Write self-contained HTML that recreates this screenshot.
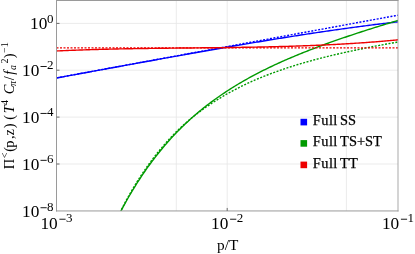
<!DOCTYPE html>
<html><head><meta charset="utf-8"><title>plot</title>
<style>
html,body{margin:0;padding:0;background:#fff;}
body{width:415px;height:254px;overflow:hidden;}
svg{display:block;will-change:transform;font-family:"Liberation Serif",serif;}
text{fill:#000;}
.tk{font-size:17px;}
.sp{font-size:12.3px;}
.ax{font-size:15.3px;}
.yl{font-size:14.3px;}
.sp2{font-size:10.5px;}
.sb{font-size:10.5px;}
.it{font-style:italic;}
.lg{font-size:14.4px;stroke:#000;stroke-width:0.25px;}
</style></head><body>
<svg width="415" height="254" viewBox="0 0 415 254">
<rect width="415" height="254" fill="#fff"/>
<line x1="56.5" x2="398.0" y1="23.4" y2="23.4" stroke="#e6e6e6" stroke-width="0.8"/>
<line x1="56.5" x2="398.0" y1="70.2" y2="70.2" stroke="#e6e6e6" stroke-width="0.8"/>
<line x1="56.5" x2="398.0" y1="117.1" y2="117.1" stroke="#e6e6e6" stroke-width="0.8"/>
<line x1="56.5" x2="398.0" y1="164.0" y2="164.0" stroke="#e6e6e6" stroke-width="0.8"/>
<line x1="176.3" x2="176.3" y1="0.5" y2="210.95" stroke="#e6e6e6" stroke-width="0.8"/>
<line x1="227.2" x2="227.2" y1="0.5" y2="210.95" stroke="#e6e6e6" stroke-width="0.8"/>
<line x1="346.4" x2="346.4" y1="0.5" y2="210.95" stroke="#e6e6e6" stroke-width="0.8"/>
<clipPath id="c"><rect x="56.5" y="0.5" width="341.5" height="210.45"/></clipPath>
<g clip-path="url(#c)" fill="none" stroke-width="1.4" stroke-linejoin="round">
<polyline points="56.50,78.01 57.93,77.75 59.36,77.48 60.79,77.22 62.22,76.96 63.64,76.69 65.07,76.43 66.50,76.16 67.93,75.90 69.36,75.64 70.79,75.37 72.22,75.11 73.65,74.85 75.08,74.58 76.50,74.32 77.93,74.06 79.36,73.79 80.79,73.53 82.22,73.27 83.65,73.00 85.08,72.74 86.51,72.48 87.94,72.21 89.36,71.95 90.79,71.69 92.22,71.43 93.65,71.16 95.08,70.90 96.51,70.64 97.94,70.38 99.37,70.11 100.79,69.85 102.22,69.59 103.65,69.33 105.08,69.06 106.51,68.80 107.94,68.54 109.37,68.28 110.80,68.02 112.23,67.76 113.65,67.49 115.08,67.23 116.51,66.97 117.94,66.71 119.37,66.45 120.80,66.19 122.23,65.93 123.66,65.66 125.09,65.40 126.51,65.14 127.94,64.88 129.37,64.62 130.80,64.36 132.23,64.10 133.66,63.84 135.09,63.58 136.52,63.32 137.95,63.06 139.37,62.80 140.80,62.54 142.23,62.28 143.66,62.02 145.09,61.76 146.52,61.50 147.95,61.24 149.38,60.99 150.81,60.73 152.23,60.47 153.66,60.21 155.09,59.95 156.52,59.69 157.95,59.43 159.38,59.18 160.81,58.92 162.24,58.66 163.67,58.40 165.09,58.15 166.52,57.89 167.95,57.63 169.38,57.38 170.81,57.12 172.24,56.86 173.67,56.61 175.10,56.35 176.53,56.09 177.95,55.84 179.38,55.58 180.81,55.33 182.24,55.07 183.67,54.82 185.10,54.56 186.53,54.31 187.96,54.05 189.38,53.80 190.81,53.55 192.24,53.29 193.67,53.04 195.10,52.79 196.53,52.53 197.96,52.28 199.39,52.03 200.82,51.77 202.24,51.52 203.67,51.27 205.10,51.02 206.53,50.77 207.96,50.52 209.39,50.27 210.82,50.02 212.25,49.77 213.68,49.52 215.10,49.27 216.53,49.02 217.96,48.77 219.39,48.52 220.82,48.27 222.25,48.02 223.68,47.78 225.11,47.53 226.54,47.28 227.96,47.03 229.39,46.79 230.82,46.54 232.25,46.30 233.68,46.05 235.11,45.81 236.54,45.56 237.97,45.32 239.40,45.07 240.82,44.83 242.25,44.59 243.68,44.34 245.11,44.10 246.54,43.86 247.97,43.62 249.40,43.38 250.83,43.14 252.26,42.90 253.68,42.66 255.11,42.42 256.54,42.18 257.97,41.94 259.40,41.70 260.83,41.46 262.26,41.23 263.69,40.99 265.12,40.75 266.54,40.52 267.97,40.28 269.40,40.05 270.83,39.81 272.26,39.58 273.69,39.35 275.12,39.12 276.55,38.88 277.97,38.65 279.40,38.42 280.83,38.19 282.26,37.96 283.69,37.73 285.12,37.50 286.55,37.28 287.98,37.05 289.41,36.82 290.83,36.59 292.26,36.37 293.69,36.14 295.12,35.92 296.55,35.70 297.98,35.47 299.41,35.25 300.84,35.03 302.27,34.81 303.69,34.59 305.12,34.37 306.55,34.15 307.98,33.93 309.41,33.71 310.84,33.50 312.27,33.28 313.70,33.06 315.13,32.85 316.55,32.64 317.98,32.42 319.41,32.21 320.84,32.00 322.27,31.79 323.70,31.58 325.13,31.37 326.56,31.16 327.99,30.95 329.41,30.74 330.84,30.54 332.27,30.33 333.70,30.13 335.13,29.92 336.56,29.72 337.99,29.52 339.42,29.32 340.85,29.12 342.27,28.92 343.70,28.72 345.13,28.52 346.56,28.32 347.99,28.13 349.42,27.93 350.85,27.74 352.28,27.54 353.71,27.35 355.13,27.16 356.56,26.97 357.99,26.78 359.42,26.59 360.85,26.40 362.28,26.21 363.71,26.02 365.14,25.84 366.56,25.65 367.99,25.47 369.42,25.29 370.85,25.11 372.28,24.92 373.71,24.74 375.14,24.57 376.57,24.39 378.00,24.21 379.42,24.03 380.85,23.86 382.28,23.68 383.71,23.51 385.14,23.34 386.57,23.17 388.00,23.00 389.43,22.83 390.86,22.66 392.28,22.49 393.71,22.32 395.14,22.16 396.57,21.99 398.00,21.83" stroke="#0000ff"/>
<polyline points="56.50,77.90 57.93,77.64 59.36,77.38 60.79,77.11 62.22,76.85 63.64,76.59 65.07,76.33 66.50,76.06 67.93,75.80 69.36,75.54 70.79,75.28 72.22,75.01 73.65,74.75 75.08,74.49 76.50,74.23 77.93,73.96 79.36,73.70 80.79,73.44 82.22,73.18 83.65,72.92 85.08,72.65 86.51,72.39 87.94,72.13 89.36,71.87 90.79,71.60 92.22,71.34 93.65,71.08 95.08,70.82 96.51,70.55 97.94,70.29 99.37,70.03 100.79,69.77 102.22,69.51 103.65,69.24 105.08,68.98 106.51,68.72 107.94,68.46 109.37,68.19 110.80,67.93 112.23,67.67 113.65,67.41 115.08,67.14 116.51,66.88 117.94,66.62 119.37,66.36 120.80,66.09 122.23,65.83 123.66,65.57 125.09,65.31 126.51,65.05 127.94,64.78 129.37,64.52 130.80,64.26 132.23,64.00 133.66,63.73 135.09,63.47 136.52,63.21 137.95,62.95 139.37,62.68 140.80,62.42 142.23,62.16 143.66,61.90 145.09,61.63 146.52,61.37 147.95,61.11 149.38,60.85 150.81,60.59 152.23,60.32 153.66,60.06 155.09,59.80 156.52,59.54 157.95,59.27 159.38,59.01 160.81,58.75 162.24,58.49 163.67,58.22 165.09,57.96 166.52,57.70 167.95,57.44 169.38,57.17 170.81,56.91 172.24,56.65 173.67,56.39 175.10,56.13 176.53,55.86 177.95,55.60 179.38,55.34 180.81,55.08 182.24,54.81 183.67,54.55 185.10,54.29 186.53,54.03 187.96,53.76 189.38,53.50 190.81,53.24 192.24,52.98 193.67,52.72 195.10,52.45 196.53,52.19 197.96,51.93 199.39,51.67 200.82,51.40 202.24,51.14 203.67,50.88 205.10,50.62 206.53,50.35 207.96,50.09 209.39,49.83 210.82,49.57 212.25,49.30 213.68,49.04 215.10,48.78 216.53,48.52 217.96,48.26 219.39,47.99 220.82,47.73 222.25,47.47 223.68,47.21 225.11,46.94 226.54,46.68 227.96,46.42 229.39,46.16 230.82,45.89 232.25,45.63 233.68,45.37 235.11,45.11 236.54,44.84 237.97,44.58 239.40,44.32 240.82,44.06 242.25,43.80 243.68,43.53 245.11,43.27 246.54,43.01 247.97,42.75 249.40,42.48 250.83,42.22 252.26,41.96 253.68,41.70 255.11,41.43 256.54,41.17 257.97,40.91 259.40,40.65 260.83,40.38 262.26,40.12 263.69,39.86 265.12,39.60 266.54,39.34 267.97,39.07 269.40,38.81 270.83,38.55 272.26,38.29 273.69,38.02 275.12,37.76 276.55,37.50 277.97,37.24 279.40,36.97 280.83,36.71 282.26,36.45 283.69,36.19 285.12,35.93 286.55,35.66 287.98,35.40 289.41,35.14 290.83,34.88 292.26,34.61 293.69,34.35 295.12,34.09 296.55,33.83 297.98,33.56 299.41,33.30 300.84,33.04 302.27,32.78 303.69,32.51 305.12,32.25 306.55,31.99 307.98,31.73 309.41,31.47 310.84,31.20 312.27,30.94 313.70,30.68 315.13,30.42 316.55,30.15 317.98,29.89 319.41,29.63 320.84,29.37 322.27,29.10 323.70,28.84 325.13,28.58 326.56,28.32 327.99,28.05 329.41,27.79 330.84,27.53 332.27,27.27 333.70,27.01 335.13,26.74 336.56,26.48 337.99,26.22 339.42,25.96 340.85,25.69 342.27,25.43 343.70,25.17 345.13,24.91 346.56,24.64 347.99,24.38 349.42,24.12 350.85,23.86 352.28,23.59 353.71,23.33 355.13,23.07 356.56,22.81 357.99,22.55 359.42,22.28 360.85,22.02 362.28,21.76 363.71,21.50 365.14,21.23 366.56,20.97 367.99,20.71 369.42,20.45 370.85,20.18 372.28,19.92 373.71,19.66 375.14,19.40 376.57,19.14 378.00,18.87 379.42,18.61 380.85,18.35 382.28,18.09 383.71,17.82 385.14,17.56 386.57,17.30 388.00,17.04 389.43,16.77 390.86,16.51 392.28,16.25 393.71,15.99 395.14,15.72 396.57,15.46 398.00,15.20" stroke="#0000ff" stroke-dasharray="2 1.5"/>
<polyline points="112.23,228.40 113.65,225.42 115.08,222.50 116.51,219.62 117.94,216.79 119.37,214.01 120.80,211.27 122.23,208.58 123.66,205.93 125.09,203.33 126.51,200.77 127.94,198.25 129.37,195.77 130.80,193.34 132.23,190.94 133.66,188.58 135.09,186.26 136.52,183.97 137.95,181.72 139.37,179.51 140.80,177.33 142.23,175.19 143.66,173.08 145.09,171.01 146.52,168.96 147.95,166.95 149.38,164.97 150.81,163.02 152.23,161.10 153.66,159.21 155.09,157.35 156.52,155.52 157.95,153.71 159.38,151.94 160.81,150.19 162.24,148.46 163.67,146.76 165.09,145.09 166.52,143.44 167.95,141.82 169.38,140.22 170.81,138.64 172.24,137.09 173.67,135.56 175.10,134.05 176.53,132.56 177.95,131.09 179.38,129.65 180.81,128.23 182.24,126.82 183.67,125.44 185.10,124.07 186.53,122.72 187.96,121.40 189.38,120.09 190.81,118.79 192.24,117.52 193.67,116.26 195.10,115.02 196.53,113.80 197.96,112.59 199.39,111.40 200.82,110.22 202.24,109.06 203.67,107.92 205.10,106.79 206.53,105.67 207.96,104.57 209.39,103.48 210.82,102.41 212.25,101.35 213.68,100.30 215.10,99.26 216.53,98.24 217.96,97.23 219.39,96.23 220.82,95.25 222.25,94.27 223.68,93.31 225.11,92.36 226.54,91.42 227.96,90.49 229.39,89.57 230.82,88.66 232.25,87.76 233.68,86.88 235.11,86.00 236.54,85.13 237.97,84.27 239.40,83.42 240.82,82.58 242.25,81.75 243.68,80.93 245.11,80.11 246.54,79.31 247.97,78.51 249.40,77.72 250.83,76.94 252.26,76.16 253.68,75.40 255.11,74.64 256.54,73.89 257.97,73.14 259.40,72.41 260.83,71.68 262.26,70.95 263.69,70.24 265.12,69.53 266.54,68.82 267.97,68.13 269.40,67.43 270.83,66.75 272.26,66.07 273.69,65.40 275.12,64.73 276.55,64.07 277.97,63.41 279.40,62.76 280.83,62.12 282.26,61.48 283.69,60.84 285.12,60.21 286.55,59.59 287.98,58.97 289.41,58.35 290.83,57.74 292.26,57.13 293.69,56.53 295.12,55.93 296.55,55.34 297.98,54.75 299.41,54.17 300.84,53.59 302.27,53.01 303.69,52.44 305.12,51.87 306.55,51.30 307.98,50.74 309.41,50.18 310.84,49.63 312.27,49.08 313.70,48.53 315.13,47.98 316.55,47.44 317.98,46.91 319.41,46.37 320.84,45.84 322.27,45.31 323.70,44.79 325.13,44.26 326.56,43.74 327.99,43.23 329.41,42.71 330.84,42.20 332.27,41.69 333.70,41.19 335.13,40.68 336.56,40.18 337.99,39.68 339.42,39.19 340.85,38.69 342.27,38.20 343.70,37.71 345.13,37.23 346.56,36.74 347.99,36.26 349.42,35.78 350.85,35.30 352.28,34.82 353.71,34.35 355.13,33.88 356.56,33.41 357.99,32.94 359.42,32.47 360.85,32.00 362.28,31.54 363.71,31.08 365.14,30.62 366.56,30.16 367.99,29.70 369.42,29.25 370.85,28.80 372.28,28.34 373.71,27.89 375.14,27.45 376.57,27.00 378.00,26.55 379.42,26.11 380.85,25.66 382.28,25.22 383.71,24.78 385.14,24.34 386.57,23.91 388.00,23.47 389.43,23.03 390.86,22.60 392.28,22.17 393.71,21.73 395.14,21.30 396.57,20.87 398.00,20.45" stroke="#009a00"/>
<polyline points="112.23,228.51 113.65,225.41 115.08,222.37 116.51,219.38 117.94,216.44 119.37,213.56 120.80,210.73 122.23,207.95 123.66,205.22 125.09,202.53 126.51,199.90 127.94,197.31 129.37,194.77 130.80,192.27 132.23,189.81 133.66,187.40 135.09,185.03 136.52,182.71 137.95,180.42 139.37,178.17 140.80,175.97 142.23,173.80 143.66,171.67 145.09,169.58 146.52,167.52 147.95,165.50 149.38,163.51 150.81,161.56 152.23,159.64 153.66,157.75 155.09,155.90 156.52,154.08 157.95,152.29 159.38,150.53 160.81,148.80 162.24,147.09 163.67,145.42 165.09,143.78 166.52,142.16 167.95,140.57 169.38,139.01 170.81,137.48 172.24,135.97 173.67,134.48 175.10,133.02 176.53,131.59 177.95,130.20 179.38,128.84 180.81,127.50 182.24,126.18 183.67,124.88 185.10,123.60 186.53,122.35 187.96,121.11 189.38,119.90 190.81,118.70 192.24,117.53 193.67,116.37 195.10,115.24 196.53,114.12 197.96,113.02 199.39,111.93 200.82,110.87 202.24,109.82 203.67,108.79 205.10,107.78 206.53,106.78 207.96,105.80 209.39,104.83 210.82,103.88 212.25,102.94 213.68,102.02 215.10,101.11 216.53,100.22 217.96,99.34 219.39,98.46 220.82,97.59 222.25,96.72 223.68,95.87 225.11,95.04 226.54,94.21 227.96,93.40 229.39,92.60 230.82,91.81 232.25,91.03 233.68,90.26 235.11,89.51 236.54,88.76 237.97,88.03 239.40,87.31 240.82,86.59 242.25,85.89 243.68,85.19 245.11,84.51 246.54,83.83 247.97,83.17 249.40,82.51 250.83,81.86 252.26,81.22 253.68,80.59 255.11,79.97 256.54,79.36 257.97,78.75 259.40,78.15 260.83,77.56 262.26,76.98 263.69,76.41 265.12,75.84 266.54,75.28 267.97,74.73 269.40,74.18 270.83,73.64 272.26,73.11 273.69,72.58 275.12,72.06 276.55,71.55 277.97,71.04 279.40,70.54 280.83,70.04 282.26,69.55 283.69,69.07 285.12,68.59 286.55,68.12 287.98,67.65 289.41,67.19 290.83,66.73 292.26,66.28 293.69,65.83 295.12,65.39 296.55,64.95 297.98,64.52 299.41,64.09 300.84,63.67 302.27,63.25 303.69,62.83 305.12,62.42 306.55,62.02 307.98,61.61 309.41,61.22 310.84,60.82 312.27,60.43 313.70,60.05 315.13,59.66 316.55,59.28 317.98,58.91 319.41,58.54 320.84,58.17 322.27,57.80 323.70,57.44 325.13,57.08 326.56,56.73 327.99,56.38 329.41,56.03 330.84,55.68 332.27,55.34 333.70,55.00 335.13,54.66 336.56,54.33 337.99,54.00 339.42,53.67 340.85,53.34 342.27,53.02 343.70,52.69 345.13,52.38 346.56,52.06 347.99,51.75 349.42,51.43 350.85,51.13 352.28,50.82 353.71,50.51 355.13,50.21 356.56,49.91 357.99,49.61 359.42,49.32 360.85,49.02 362.28,48.73 363.71,48.44 365.14,48.15 366.56,47.87 367.99,47.58 369.42,47.30 370.85,47.02 372.28,46.74 373.71,46.46 375.14,46.18 376.57,45.91 378.00,45.64 379.42,45.37 380.85,45.10 382.28,44.83 383.71,44.56 385.14,44.30 386.57,44.03 388.00,43.77 389.43,43.51 390.86,43.25 392.28,42.99 393.71,42.73 395.14,42.48 396.57,42.22 398.00,41.97" stroke="#009a00" stroke-dasharray="2 1.5"/>
<polyline points="56.50,50.97 57.93,50.90 59.36,50.83 60.79,50.77 62.22,50.71 63.64,50.64 65.07,50.58 66.50,50.52 67.93,50.46 69.36,50.40 70.79,50.35 72.22,50.29 73.65,50.24 75.08,50.18 76.50,50.13 77.93,50.08 79.36,50.03 80.79,49.98 82.22,49.93 83.65,49.88 85.08,49.83 86.51,49.78 87.94,49.74 89.36,49.69 90.79,49.65 92.22,49.60 93.65,49.56 95.08,49.52 96.51,49.48 97.94,49.44 99.37,49.40 100.79,49.36 102.22,49.32 103.65,49.29 105.08,49.25 106.51,49.21 107.94,49.18 109.37,49.14 110.80,49.11 112.23,49.08 113.65,49.05 115.08,49.01 116.51,48.98 117.94,48.95 119.37,48.92 120.80,48.89 122.23,48.86 123.66,48.84 125.09,48.81 126.51,48.78 127.94,48.76 129.37,48.73 130.80,48.70 132.23,48.68 133.66,48.65 135.09,48.63 136.52,48.61 137.95,48.58 139.37,48.56 140.80,48.54 142.23,48.52 143.66,48.50 145.09,48.48 146.52,48.46 147.95,48.43 149.38,48.41 150.81,48.40 152.23,48.38 153.66,48.36 155.09,48.34 156.52,48.32 157.95,48.30 159.38,48.29 160.81,48.27 162.24,48.25 163.67,48.23 165.09,48.22 166.52,48.20 167.95,48.18 169.38,48.17 170.81,48.15 172.24,48.14 173.67,48.12 175.10,48.11 176.53,48.09 177.95,48.07 179.38,48.06 180.81,48.04 182.24,48.03 183.67,48.02 185.10,48.00 186.53,47.99 187.96,47.97 189.38,47.96 190.81,47.94 192.24,47.93 193.67,47.91 195.10,47.90 196.53,47.88 197.96,47.87 199.39,47.85 200.82,47.84 202.24,47.82 203.67,47.81 205.10,47.79 206.53,47.78 207.96,47.76 209.39,47.75 210.82,47.73 212.25,47.72 213.68,47.70 215.10,47.68 216.53,47.67 217.96,47.65 219.39,47.63 220.82,47.62 222.25,47.60 223.68,47.58 225.11,47.56 226.54,47.55 227.96,47.53 229.39,47.51 230.82,47.49 232.25,47.47 233.68,47.45 235.11,47.43 236.54,47.41 237.97,47.39 239.40,47.37 240.82,47.35 242.25,47.32 243.68,47.30 245.11,47.28 246.54,47.26 247.97,47.23 249.40,47.21 250.83,47.18 252.26,47.16 253.68,47.13 255.11,47.11 256.54,47.08 257.97,47.05 259.40,47.02 260.83,46.99 262.26,46.97 263.69,46.94 265.12,46.91 266.54,46.88 267.97,46.84 269.40,46.81 270.83,46.78 272.26,46.75 273.69,46.71 275.12,46.68 276.55,46.64 277.97,46.60 279.40,46.57 280.83,46.53 282.26,46.49 283.69,46.45 285.12,46.41 286.55,46.37 287.98,46.33 289.41,46.29 290.83,46.25 292.26,46.20 293.69,46.16 295.12,46.11 296.55,46.06 297.98,46.02 299.41,45.97 300.84,45.92 302.27,45.87 303.69,45.82 305.12,45.77 306.55,45.71 307.98,45.66 309.41,45.60 310.84,45.55 312.27,45.49 313.70,45.43 315.13,45.38 316.55,45.32 317.98,45.25 319.41,45.19 320.84,45.13 322.27,45.07 323.70,45.00 325.13,44.93 326.56,44.87 327.99,44.80 329.41,44.73 330.84,44.66 332.27,44.59 333.70,44.51 335.13,44.44 336.56,44.36 337.99,44.29 339.42,44.21 340.85,44.13 342.27,44.05 343.70,43.97 345.13,43.88 346.56,43.80 347.99,43.72 349.42,43.63 350.85,43.54 352.28,43.45 353.71,43.36 355.13,43.27 356.56,43.17 357.99,43.08 359.42,42.98 360.85,42.89 362.28,42.79 363.71,42.69 365.14,42.58 366.56,42.48 367.99,42.38 369.42,42.27 370.85,42.16 372.28,42.05 373.71,41.94 375.14,41.83 376.57,41.72 378.00,41.60 379.42,41.48 380.85,41.37 382.28,41.25 383.71,41.12 385.14,41.00 386.57,40.88 388.00,40.75 389.43,40.62 390.86,40.49 392.28,40.36 393.71,40.23 395.14,40.09 396.57,39.96 398.00,39.82" stroke="#ee0000"/>
<polyline points="56.50,47.90 57.93,47.90 59.36,47.90 60.79,47.90 62.22,47.90 63.64,47.90 65.07,47.90 66.50,47.90 67.93,47.90 69.36,47.90 70.79,47.90 72.22,47.90 73.65,47.90 75.08,47.90 76.50,47.90 77.93,47.90 79.36,47.90 80.79,47.90 82.22,47.90 83.65,47.90 85.08,47.90 86.51,47.90 87.94,47.90 89.36,47.90 90.79,47.90 92.22,47.90 93.65,47.90 95.08,47.90 96.51,47.90 97.94,47.90 99.37,47.90 100.79,47.90 102.22,47.90 103.65,47.90 105.08,47.90 106.51,47.90 107.94,47.90 109.37,47.90 110.80,47.90 112.23,47.90 113.65,47.90 115.08,47.90 116.51,47.90 117.94,47.90 119.37,47.90 120.80,47.90 122.23,47.90 123.66,47.90 125.09,47.90 126.51,47.90 127.94,47.90 129.37,47.90 130.80,47.90 132.23,47.90 133.66,47.90 135.09,47.90 136.52,47.90 137.95,47.90 139.37,47.90 140.80,47.90 142.23,47.90 143.66,47.90 145.09,47.90 146.52,47.90 147.95,47.90 149.38,47.90 150.81,47.90 152.23,47.90 153.66,47.90 155.09,47.90 156.52,47.90 157.95,47.90 159.38,47.90 160.81,47.90 162.24,47.90 163.67,47.90 165.09,47.90 166.52,47.90 167.95,47.90 169.38,47.90 170.81,47.90 172.24,47.90 173.67,47.90 175.10,47.90 176.53,47.90 177.95,47.90 179.38,47.90 180.81,47.90 182.24,47.90 183.67,47.90 185.10,47.90 186.53,47.90 187.96,47.90 189.38,47.90 190.81,47.90 192.24,47.90 193.67,47.90 195.10,47.90 196.53,47.90 197.96,47.90 199.39,47.90 200.82,47.90 202.24,47.90 203.67,47.90 205.10,47.90 206.53,47.90 207.96,47.90 209.39,47.90 210.82,47.90 212.25,47.90 213.68,47.90 215.10,47.90 216.53,47.90 217.96,47.90 219.39,47.90 220.82,47.90 222.25,47.90 223.68,47.90 225.11,47.90 226.54,47.90 227.96,47.90 229.39,47.90 230.82,47.90 232.25,47.90 233.68,47.90 235.11,47.90 236.54,47.90 237.97,47.90 239.40,47.90 240.82,47.90 242.25,47.90 243.68,47.90 245.11,47.90 246.54,47.90 247.97,47.90 249.40,47.90 250.83,47.90 252.26,47.90 253.68,47.90 255.11,47.90 256.54,47.90 257.97,47.90 259.40,47.90 260.83,47.90 262.26,47.90 263.69,47.90 265.12,47.90 266.54,47.90 267.97,47.90 269.40,47.90 270.83,47.90 272.26,47.90 273.69,47.90 275.12,47.90 276.55,47.90 277.97,47.90 279.40,47.90 280.83,47.90 282.26,47.90 283.69,47.90 285.12,47.90 286.55,47.90 287.98,47.90 289.41,47.90 290.83,47.90 292.26,47.90 293.69,47.90 295.12,47.90 296.55,47.90 297.98,47.90 299.41,47.90 300.84,47.90 302.27,47.90 303.69,47.90 305.12,47.90 306.55,47.90 307.98,47.90 309.41,47.90 310.84,47.90 312.27,47.90 313.70,47.90 315.13,47.90 316.55,47.90 317.98,47.90 319.41,47.90 320.84,47.90 322.27,47.90 323.70,47.90 325.13,47.90 326.56,47.90 327.99,47.90 329.41,47.90 330.84,47.90 332.27,47.90 333.70,47.90 335.13,47.90 336.56,47.90 337.99,47.90 339.42,47.90 340.85,47.90 342.27,47.90 343.70,47.90 345.13,47.90 346.56,47.90 347.99,47.90 349.42,47.90 350.85,47.90 352.28,47.90 353.71,47.90 355.13,47.90 356.56,47.90 357.99,47.90 359.42,47.90 360.85,47.90 362.28,47.90 363.71,47.90 365.14,47.90 366.56,47.90 367.99,47.90 369.42,47.90 370.85,47.90 372.28,47.90 373.71,47.90 375.14,47.90 376.57,47.90 378.00,47.90 379.42,47.90 380.85,47.90 382.28,47.90 383.71,47.90 385.14,47.90 386.57,47.90 388.00,47.90 389.43,47.90 390.86,47.90 392.28,47.90 393.71,47.90 395.14,47.90 396.57,47.90 398.00,47.90" stroke="#ee0000" stroke-dasharray="2 1.5"/>
</g>
<g stroke="#9a9a9a" stroke-width="1" fill="none">
<line x1="56.5" x2="56.5" y1="0" y2="211.45"/>
<line x1="398.0" x2="398.0" y1="0" y2="211.45" stroke-width="0.85"/>
<line x1="56.0" x2="398.5" y1="0.5" y2="0.5"/>
<line x1="56.0" x2="398.5" y1="210.95" y2="210.95"/>
</g>
<line x1="56.5" x2="59.5" y1="23.4" y2="23.4" stroke="#6a6a6a" stroke-width="1"/>
<line x1="56.5" x2="59.5" y1="70.2" y2="70.2" stroke="#6a6a6a" stroke-width="1"/>
<line x1="56.5" x2="59.5" y1="117.1" y2="117.1" stroke="#6a6a6a" stroke-width="1"/>
<line x1="56.5" x2="59.5" y1="164.0" y2="164.0" stroke="#6a6a6a" stroke-width="1"/>
<line x1="227.2" x2="227.2" y1="210.95" y2="207.95" stroke="#6a6a6a" stroke-width="1"/>
<text x="47.10" y="22.60" font-size="13.0">0</text><text x="30.10" y="29.20" font-size="17.3">10</text>
<text x="47.10" y="69.40" font-size="13.0">2</text><rect x="40.50" y="66.05" width="6.2" height="0.9" fill="#000"/><text x="22.00" y="76.00" font-size="17.3">10</text>
<text x="47.10" y="116.30" font-size="13.0">4</text><rect x="40.50" y="112.95" width="6.2" height="0.9" fill="#000"/><text x="22.00" y="122.90" font-size="17.3">10</text>
<text x="47.10" y="163.20" font-size="13.0">6</text><rect x="40.50" y="159.85" width="6.2" height="0.9" fill="#000"/><text x="22.00" y="169.80" font-size="17.3">10</text>
<text x="47.10" y="210.65" font-size="13.0">8</text><rect x="40.50" y="207.30" width="6.2" height="0.9" fill="#000"/><text x="22.00" y="217.25" font-size="17.3">10</text>
<text x="66.00" y="222.10" font-size="13.0">3</text><rect x="59.40" y="218.75" width="6.2" height="0.9" fill="#000"/><text x="40.40" y="229.40" font-size="17.3">10</text>
<text x="236.70" y="222.10" font-size="13.0">2</text><rect x="230.10" y="218.75" width="6.2" height="0.9" fill="#000"/><text x="211.10" y="229.40" font-size="17.3">10</text>
<text x="407.50" y="222.10" font-size="13.0">1</text><rect x="400.90" y="218.75" width="6.2" height="0.9" fill="#000"/><text x="381.90" y="229.40" font-size="17.3">10</text>
<text x="227.7" y="250.1" text-anchor="middle" class="ax">p/T</text>
<g transform="translate(14.3,168.7) rotate(-90)">
<text x="-0.63" y="0" font-size="14.4">Π</text>
<text x="10.43" y="-6.6" font-size="10.0">&lt;</text>
<text x="16.84" y="0" font-size="14.4">(</text>
<text x="21.00" y="0" font-size="14.4">p</text>
<text x="29.80" y="0" font-size="14.4">,</text>
<text x="33.20" y="0" font-size="14.4">z</text>
<text x="40.39" y="0" font-size="14.4">)</text>
<text x="48.99" y="0" font-size="14.4">(</text>
<text x="55.34" y="0" font-size="14.4" font-style="italic">T</text>
<text x="63.80" y="-6.6" font-size="10.0">4</text>
<text x="74.40" y="0" font-size="14.4" font-style="italic">C</text>
<text x="82.78" y="1.8" font-size="10.0" font-style="italic">π</text>
<text x="88.38" y="0" font-size="14.4">/</text>
<text x="94.06" y="0" font-size="14.4" font-style="italic">f</text>
<text x="98.70" y="1.8" font-size="10.0" font-style="italic">a</text>
<text x="105.10" y="-6.6" font-size="10.0">2</text>
<text x="110.39" y="0" font-size="14.4">)</text>
<text x="115.77" y="-6.6" font-size="10.0">−</text>
<text x="121.50" y="-6.6" font-size="10.0">1</text>
</g>
<rect x="300.5" y="118.8" width="6.6" height="6.6" fill="#0000ff"/>
<text x="312.8" y="125.0" class="lg" letter-spacing="0.45">Full</text>
<text x="340.1" y="125.0" class="lg">SS</text>
<rect x="300.5" y="140.1" width="6.6" height="6.6" fill="#009a00"/>
<text x="312.8" y="146.3" class="lg" letter-spacing="0.45">Full</text>
<text x="340.1" y="146.3" class="lg">TS+ST</text>
<rect x="300.5" y="161.6" width="6.6" height="6.6" fill="#ee0000"/>
<text x="312.8" y="167.8" class="lg" letter-spacing="0.45">Full</text>
<text x="340.1" y="167.8" class="lg">TT</text>
</svg>
</body></html>
